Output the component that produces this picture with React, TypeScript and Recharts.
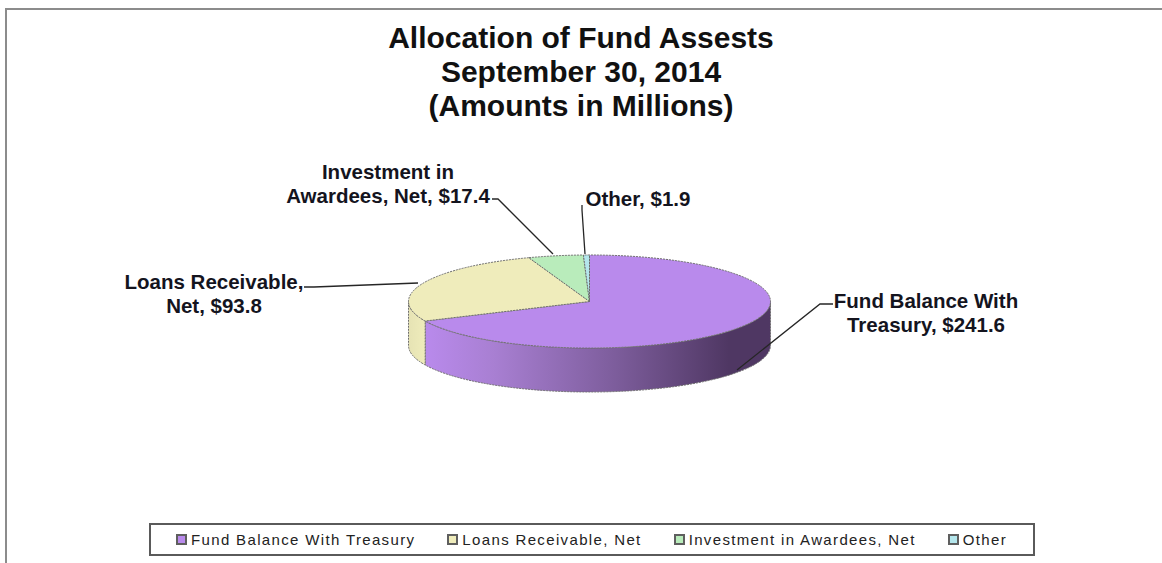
import React from 'react';
import { PieChart, Pie, Legend } from 'recharts';

const categories = ['Fund Balance With Treasury', 'Loans Receivable, Net', 'Investment in Awardees, Net', 'Other'];
const amounts = [241.6, 93.8, 17.4, 1.9];
const topColors = ['#b98aec', '#efecbb', '#b9ecbb', '#b4e6ec'];
const wallFills = ['url(#wallPurple)', 'url(#wallYellow)', '#9cc89e', '#98c4c8'];
const titleLines = ['Allocation of Fund Assests', 'September 30, 2014', '(Amounts in Millions)'];

// label text lines, anchor centre and leader line per slice
const labelLines = [
  ['Fund Balance With', 'Treasury, $241.6'],
  ['Loans Receivable,', 'Net, $93.8'],
  ['Investment in', 'Awardees, Net, $17.4'],
  ['Other, $1.9'],
];
const labelCenters = [
  [926, 308],
  [214, 289],
  [388, 179],
  [638, 206],
];
const leaders = [
  '833,304 820,304 737,370',
  '304,287 314,287 418,283',
  '492,199 498,199 553,254',
  '582,205 582,210 585,254',
];

const data = categories.map((name, i) => ({ name, value: amounts[i], fill: topColors[i] }));
const wallData = categories.map((name, i) => ({ name, value: amounts[i], fill: wallFills[i] }));

const SQUASH = 0.257;
const DEPTH = 44;
const RAD = Math.PI / 180;

function pt(cx: number, cy: number, r: number, a: number) {
  return [cx + r * Math.cos(a * RAD), cy - r * SQUASH * Math.sin(a * RAD)];
}

// top face of a slice, flattened into an ellipse
function TopSlice(props: any) {
  const { cx, cy, outerRadius: r, startAngle, endAngle, fill } = props;
  const [x1, y1] = pt(cx, cy, r, startAngle);
  const [x2, y2] = pt(cx, cy, r, endAngle);
  const large = Math.abs(startAngle - endAngle) > 180 ? 1 : 0;
  const d = `M${cx},${cy} L${x1},${y1} A${r},${r * SQUASH} 0 ${large} 1 ${x2},${y2} Z`;
  return <path d={d} fill={fill} stroke="#6e6e6e" strokeWidth={1} strokeDasharray="2 1" />;
}

// outer wall, only the part of the slice on the front half of the ellipse
function WallSlice(props: any) {
  const { cx, cy, outerRadius: r, startAngle, endAngle, fill } = props;
  const hi = Math.min(Math.max(startAngle, endAngle), 0);
  const lo = Math.max(Math.min(startAngle, endAngle), -180);
  if (hi <= lo) return <g />;
  const [x1, y1] = pt(cx, cy, r, hi);
  const [x2, y2] = pt(cx, cy, r, lo);
  const ry = r * SQUASH;
  const d = `M${x1},${y1} A${r},${ry} 0 0 1 ${x2},${y2} L${x2},${y2 + DEPTH} A${r},${ry} 0 0 0 ${x1},${y1 + DEPTH} Z`;
  return <path d={d} fill={fill} stroke="#6e6e6e" strokeWidth={1} strokeDasharray="2 1" />;
}

function SliceLabel({ index }: any) {
  const [x, y] = labelCenters[index];
  return (
    <g>
      <polyline points={leaders[index]} fill="none" stroke="#262626" strokeWidth={1.3} />
      {labelLines[index].map((line, i) => (
        <text
          key={line}
          x={x}
          y={y + i * 24}
          textAnchor="middle"
          fontFamily="Liberation Sans"
          fontWeight="bold"
          fontSize={20.5}
          fill="#14141e"
        >
          {line}
        </text>
      ))}
    </g>
  );
}

function LegendBox() {
  return (
    <div
      style={{
        boxSizing: 'border-box',
        width: 886,
        height: 33,
        border: '2px solid #5a5a5a',
        paddingLeft: 25,
        display: 'flex',
        alignItems: 'center',
        gap: 32,
        background: '#fff',
        fontFamily: 'Liberation Sans',
        fontSize: 15,
        letterSpacing: 1.35,
        color: '#222',
        whiteSpace: 'nowrap',
      }}
    >
      {categories.map((name, i) => (
        <span key={name} style={{ display: 'flex', alignItems: 'center', gap: 4 }}>
          <span
            style={{
              boxSizing: 'border-box',
              width: 11,
              height: 11,
              background: topColors[i],
              border: '2px solid #5f5f5f',
            }}
          />
          {name}
        </span>
      ))}
    </div>
  );
}

export default function App() {
  return (
    <div style={{ position: 'fixed', left: 0, top: 0, width: 1162, height: 563, background: '#fff', overflow: 'hidden' }}>
      <div style={{ position: 'absolute', left: 5, top: 8, width: 1170, height: 570, borderLeft: '2px solid #8c8c8c', borderTop: '2px solid #8c8c8c' }} />
      <div
        style={{
          position: 'absolute',
          left: 0,
          top: 21,
          width: 1162,
          textAlign: 'center',
          fontFamily: 'Liberation Sans',
          fontWeight: 'bold',
          fontSize: 30,
          lineHeight: '34px',
          color: '#111',
        }}
      >
        {titleLines.map((t) => (
          <div key={t}>{t}</div>
        ))}
      </div>
      <PieChart
        width={1162}
        height={563}
        margin={{ top: 0, right: 0, bottom: 0, left: 0 }}
        style={{ position: 'absolute', left: 0, top: 0 }}
      >
        <defs>
          <linearGradient id="wallPurple" x1="0" y1="0" x2="1" y2="0">
            <stop offset="0%" stopColor="#b98aec" />
            <stop offset="20%" stopColor="#a87fd2" />
            <stop offset="55%" stopColor="#7d5d9c" />
            <stop offset="88%" stopColor="#4f3763" />
            <stop offset="100%" stopColor="#4f3763" />
          </linearGradient>
          <linearGradient id="wallYellow" x1="0" y1="0" x2="1" y2="0">
            <stop offset="0%" stopColor="#e6e3b4" />
            <stop offset="100%" stopColor="#efecbb" />
          </linearGradient>
        </defs>
        <Pie
          data={wallData}
          dataKey="value"
          nameKey="name"
          cx={589.5}
          cy={301.5}
          outerRadius={181}
          startAngle={90}
          endAngle={-270}
          legendType="none"
          shape={WallSlice}
          isAnimationActive={false}
        />
        <Pie
          data={data}
          dataKey="value"
          nameKey="name"
          cx={589.5}
          cy={301.5}
          outerRadius={181}
          startAngle={90}
          endAngle={-270}
          shape={TopSlice}
          label={SliceLabel}
          labelLine={false}
          isAnimationActive={false}
        />
        <Legend content={LegendBox} wrapperStyle={{ position: 'absolute', left: 149, top: 523, width: 886, bottom: 'auto' }} />
      </PieChart>
    </div>
  );
}
